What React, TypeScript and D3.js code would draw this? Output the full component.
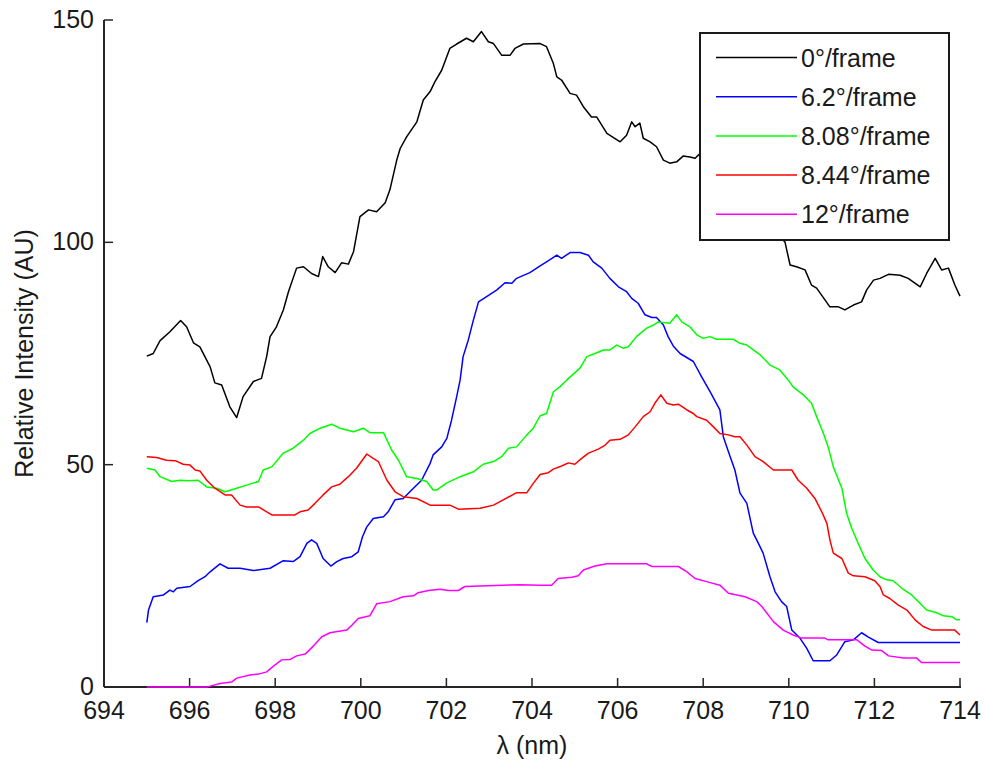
import React from 'react';
import * as d3 from 'd3';

type Pt = [number, number];

const wavelengthTicks = [694, 696, 698, 700, 702, 704, 706, 708, 710, 712, 714];
const intensityTicks = [0, 50, 100, 150];
const seriesNames = ['0°/frame', '6.2°/frame', '8.08°/frame', '8.44°/frame', '12°/frame'];
const seriesColors = ['#000000', '#0000ff', '#00ff00', '#ff0000', '#ff00ff'];

const rate0: Pt[] = [
  [695.0, 74.4], [695.15, 75.0], [695.31, 77.9], [695.54, 79.9], [695.79, 82.4], [695.93, 81.0], [696.09, 77.4],
  [696.24, 76.5], [696.48, 72.0], [696.59, 68.4], [696.75, 67.9], [696.94, 63.0], [697.10, 60.6], [697.25, 65.3],
  [697.49, 68.7], [697.68, 69.4], [697.80, 74.3], [697.88, 78.8], [698.03, 81.0], [698.19, 84.8], [698.31, 88.9],
  [698.50, 94.2], [698.66, 94.5], [698.85, 93.0], [699.01, 92.3], [699.11, 96.8], [699.24, 94.5], [699.40, 93.2],
  [699.55, 95.4], [699.71, 95.1], [699.83, 97.9], [699.98, 105.8], [700.18, 107.3], [700.37, 106.9], [700.57, 108.9],
  [700.68, 111.8], [700.84, 118.5], [700.92, 121.1], [701.07, 123.7], [701.31, 127.1], [701.46, 132.0], [701.62, 133.9],
  [701.73, 136.1], [701.89, 138.7], [702.08, 143.6], [702.24, 144.6], [702.47, 145.9], [702.63, 145.1], [702.82, 147.4],
  [702.98, 145.1], [703.10, 144.7], [703.29, 142.1], [703.49, 142.1], [703.60, 143.6], [703.80, 144.6], [704.19, 144.7],
  [704.34, 144.0], [704.50, 140.2], [704.58, 137.2], [704.69, 136.5], [704.89, 133.5], [705.04, 133.1], [705.20, 130.5],
  [705.39, 128.2], [705.51, 128.2], [705.75, 124.5], [706.06, 122.6], [706.21, 124.1], [706.33, 127.1], [706.41, 126.0],
  [706.52, 126.8], [706.60, 123.4], [706.76, 122.6], [706.91, 121.5], [707.07, 118.5], [707.22, 117.8], [707.38, 118.1],
  [707.53, 119.4], [707.69, 119.2], [707.81, 118.9], [707.93, 120.0], [708.3, 118.0], [708.8, 113.0], [709.3, 107.0],
  [709.7, 102.0], [709.91, 100.1], [710.03, 94.9], [710.18, 94.5], [710.38, 93.8], [710.53, 90.4], [710.65, 89.7],
  [710.96, 85.5], [711.16, 85.5], [711.31, 84.8], [711.51, 85.9], [711.70, 86.6], [711.82, 89.3], [711.98, 91.5],
  [712.13, 91.9], [712.33, 92.8], [712.60, 92.6], [712.79, 91.9], [713.07, 90.0], [713.22, 93.0], [713.42, 96.4],
  [713.57, 93.8], [713.73, 94.2], [713.88, 90.4], [714.0, 87.9],
];

const rate62: Pt[] = [
  [695.0, 14.5], [695.04, 17.3], [695.15, 20.3], [695.39, 20.7], [695.54, 21.8], [695.62, 21.4], [695.70, 22.2],
  [696.01, 22.6], [696.20, 23.9], [696.36, 24.8], [696.48, 25.9], [696.71, 27.7], [696.90, 26.7], [697.18, 26.7],
  [697.49, 26.2], [697.88, 26.7], [698.19, 28.4], [698.42, 28.2], [698.58, 29.3], [698.74, 32.3], [698.85, 33.1],
  [698.97, 32.3], [699.12, 28.9], [699.30, 27.2], [699.44, 28.2], [699.59, 28.9], [699.79, 29.3], [699.94, 30.4],
  [700.04, 33.8], [700.14, 36.0], [700.29, 37.9], [700.53, 38.3], [700.64, 39.4], [700.80, 42.1], [700.99, 42.4],
  [701.23, 44.7], [701.42, 46.5], [701.62, 50.3], [701.69, 52.2], [701.89, 54.0], [702.01, 55.9], [702.12, 60.0],
  [702.24, 65.3], [702.32, 69.0], [702.39, 74.3], [702.51, 78.0], [702.63, 82.5], [702.75, 86.6], [702.94, 87.8],
  [703.18, 89.3], [703.37, 90.9], [703.53, 90.8], [703.64, 91.9], [703.95, 93.2], [704.19, 94.7], [704.34, 95.6],
  [704.58, 97.1], [704.69, 96.4], [704.89, 97.7], [705.12, 97.7], [705.32, 97.1], [705.43, 95.6], [705.63, 94.2],
  [705.82, 91.9], [706.02, 90.0], [706.21, 88.9], [706.33, 87.4], [706.48, 86.3], [706.64, 83.7], [706.80, 83.1],
  [706.91, 83.1], [707.07, 81.4], [707.18, 78.8], [707.30, 76.7], [707.46, 75.0], [707.77, 73.2], [707.96, 69.8],
  [708.16, 66.4], [708.39, 62.3], [708.47, 56.3], [708.63, 51.8], [708.74, 48.8], [708.86, 43.6], [709.02, 41.3],
  [709.17, 34.6], [709.29, 32.3], [709.40, 30.1], [709.56, 24.8], [709.68, 21.4], [709.83, 19.2], [709.95, 18.1],
  [710.07, 12.8], [710.26, 11.0], [710.42, 8.7], [710.57, 5.9], [710.96, 5.9], [711.12, 7.2], [711.31, 10.2],
  [711.51, 10.6], [711.70, 12.2], [711.86, 11.2], [712.09, 10.0], [714.0, 10.0],
];

const rate808: Pt[] = [
  [695.0, 49.2], [695.19, 48.8], [695.31, 47.3], [695.58, 46.2], [695.78, 46.5], [695.97, 46.4], [696.20, 46.5],
  [696.40, 45.0], [696.63, 44.7], [696.83, 43.9], [697.10, 44.7], [697.33, 45.4], [697.61, 46.2], [697.72, 48.8],
  [697.92, 49.5], [698.19, 52.6], [698.42, 53.7], [698.66, 55.5], [698.81, 57.0], [699.05, 58.2], [699.32, 59.1],
  [699.51, 58.2], [699.83, 57.4], [700.06, 58.2], [700.21, 57.2], [700.53, 57.2], [700.72, 53.3], [700.88, 51.0],
  [701.07, 47.3], [701.31, 46.9], [701.54, 46.2], [701.69, 44.3], [701.77, 44.3], [702.01, 45.9], [702.32, 47.3],
  [702.63, 48.4], [702.86, 50.1], [703.10, 50.7], [703.29, 51.8], [703.45, 53.7], [703.64, 54.0], [703.88, 56.7],
  [704.03, 58.2], [704.19, 61.0], [704.34, 61.5], [704.50, 66.4], [704.65, 67.5], [704.81, 69.0], [705.12, 71.7],
  [705.28, 74.3], [705.47, 75.0], [705.67, 75.8], [705.82, 75.8], [705.98, 76.9], [706.13, 76.2], [706.25, 76.5],
  [706.44, 78.8], [706.68, 80.7], [706.84, 81.4], [706.95, 82.1], [707.22, 81.8], [707.38, 83.7], [707.50, 82.1],
  [707.69, 81.0], [707.85, 79.2], [708.00, 78.4], [708.16, 78.8], [708.31, 78.2], [708.70, 78.2], [708.86, 77.3],
  [709.02, 76.9], [709.17, 75.8], [709.33, 74.7], [709.56, 72.4], [709.79, 71.3], [709.99, 69.0], [710.10, 67.5],
  [710.34, 65.7], [710.53, 63.8], [710.65, 60.8], [710.81, 57.0], [710.92, 54.0], [711.04, 49.5], [711.24, 44.7],
  [711.35, 39.1], [711.47, 35.7], [711.62, 32.3], [711.78, 28.9], [711.97, 26.3], [712.13, 24.8], [712.29, 24.1],
  [712.44, 23.9], [712.64, 22.2], [712.87, 20.7], [713.07, 18.8], [713.22, 17.3], [713.46, 16.7], [713.61, 16.0],
  [713.81, 15.8], [713.92, 15.1], [714.0, 15.1],
];

const rate844: Pt[] = [
  [695.0, 51.8], [695.23, 51.6], [695.46, 51.0], [695.66, 50.9], [695.85, 50.1], [696.01, 49.9], [696.13, 48.8],
  [696.24, 48.6], [696.40, 46.5], [696.59, 44.7], [696.83, 43.2], [696.98, 43.2], [697.18, 40.9], [697.33, 40.5],
  [697.61, 40.5], [697.92, 38.7], [698.46, 38.7], [698.58, 39.4], [698.77, 39.8], [698.93, 41.3], [699.12, 43.2],
  [699.32, 45.0], [699.51, 45.6], [699.71, 47.3], [699.90, 49.2], [700.14, 52.4], [700.29, 51.4], [700.41, 50.7],
  [700.61, 46.5], [700.80, 43.9], [700.99, 42.8], [701.31, 42.4], [701.62, 40.9], [702.08, 40.9], [702.28, 40.0],
  [702.79, 40.2], [703.10, 40.9], [703.33, 42.1], [703.64, 43.7], [703.88, 43.7], [704.03, 45.8], [704.19, 47.8],
  [704.38, 48.2], [704.50, 49.0], [704.69, 49.7], [704.85, 50.4], [705.00, 50.1], [705.16, 51.4], [705.32, 52.6],
  [705.55, 53.5], [705.71, 54.4], [705.82, 55.5], [706.06, 55.7], [706.25, 56.7], [706.41, 58.5], [706.60, 60.8],
  [706.76, 61.9], [706.87, 63.8], [707.01, 65.7], [707.15, 63.8], [707.30, 63.4], [707.42, 63.6], [707.62, 62.3],
  [707.77, 61.5], [707.85, 60.8], [708.08, 60.0], [708.24, 58.5], [708.39, 57.0], [708.59, 56.7], [708.74, 56.3],
  [708.86, 56.3], [709.02, 54.4], [709.21, 51.8], [709.40, 50.7], [709.64, 48.8], [710.07, 48.8], [710.22, 46.5],
  [710.42, 44.7], [710.61, 42.4], [710.77, 39.4], [710.89, 36.8], [710.96, 33.1], [711.04, 30.1], [711.24, 28.9],
  [711.39, 25.6], [711.51, 25.0], [711.78, 24.8], [712.01, 23.9], [712.13, 22.6], [712.21, 20.7], [712.36, 19.9],
  [712.56, 18.4], [712.76, 17.3], [712.95, 15.1], [713.14, 13.6], [713.34, 12.8], [713.88, 12.8], [714.0, 11.7],
];

const rate12: Pt[] = [
  [695.0, 0.0], [696.40, 0.0], [696.48, 0.2], [696.71, 0.8], [696.98, 1.1], [697.10, 2.0], [697.41, 2.7],
  [697.61, 2.9], [697.80, 3.4], [697.96, 4.7], [698.15, 6.1], [698.35, 6.2], [698.50, 7.0], [698.70, 7.4],
  [698.89, 9.2], [699.09, 11.3], [699.28, 12.2], [699.67, 12.8], [699.79, 13.9], [699.94, 15.4], [700.21, 16.0],
  [700.37, 18.7], [700.68, 19.2], [700.99, 20.3], [701.23, 20.5], [701.34, 21.2], [701.58, 21.7], [701.85, 22.0],
  [702.04, 21.7], [702.28, 21.7], [702.43, 22.6], [703.72, 23.0], [704.19, 22.9], [704.46, 22.9], [704.61, 24.4],
  [704.93, 24.7], [705.08, 25.0], [705.20, 26.3], [705.47, 27.2], [705.75, 27.7], [706.68, 27.7], [706.80, 27.1],
  [707.42, 27.1], [707.62, 25.9], [707.81, 24.4], [708.08, 23.7], [708.39, 22.9], [708.59, 21.1], [708.98, 20.3],
  [709.25, 19.2], [709.37, 18.1], [709.64, 14.7], [709.87, 12.8], [710.10, 11.7], [710.30, 11.0], [710.84, 11.0],
  [710.92, 10.6], [711.59, 10.6], [711.78, 9.2], [711.94, 8.3], [712.17, 8.2], [712.33, 7.0], [712.68, 6.5],
  [712.99, 6.5], [713.10, 5.5], [714.0, 5.5],
];

const seriesData: Pt[][] = [rate0, rate62, rate808, rate844, rate12];

const FONT = '"Liberation Sans", Arial, sans-serif';

export default function App() {
  const W = 984;
  const H = 765;
  const left = 104;
  const right = 960;
  const top = 20;
  const bottom = 687;
  const x = d3.scaleLinear().domain([694, 714]).range([left, right]);
  const y = d3.scaleLinear().domain([0, 150]).range([bottom, top]);
  const line = d3
    .line<Pt>()
    .x((d) => x(d[0]))
    .y((d) => y(d[1]));
  const axisColor = '#262626';
  const tickLen = 9;

  const legendX = 700;
  const legendY = 33;
  const legendW = 249;
  const legendH = 207;
  const rowY0 = 57.5;
  const rowStep = 39.2;

  return (
    <div style={{ position: 'absolute', left: 0, top: 0, width: W, height: H, background: '#fff' }}>
      <svg width={W} height={H} style={{ display: 'block' }} fontFamily={FONT}>
        <rect x={0} y={0} width={W} height={H} fill="#fff" />
        {/* axes */}
        <line x1={left} x2={left} y1={top} y2={bottom} stroke={axisColor} strokeWidth={2} />
        <line x1={left} x2={right + 1} y1={bottom} y2={bottom} stroke={axisColor} strokeWidth={2} />
        {intensityTicks.map((t) => (
          <g key={'y' + t}>
            <line x1={left} x2={left + tickLen} y1={y(t)} y2={y(t)} stroke={axisColor} strokeWidth={1.5} />
            <text
              x={left - 10}
              y={y(t) - 1}
              textAnchor="end"
              dominantBaseline="central"
              fontSize={25}
              fill="#1a1a1a"
            >
              {t}
            </text>
          </g>
        ))}
        {wavelengthTicks.map((t) => (
          <g key={'x' + t}>
            <line x1={x(t)} x2={x(t)} y1={bottom} y2={bottom - tickLen} stroke={axisColor} strokeWidth={1.5} />
            <text x={x(t)} y={719} textAnchor="middle" fontSize={25} fill="#1a1a1a">
              {t}
            </text>
          </g>
        ))}
        <text x={(left + right) / 2} y={754} textAnchor="middle" fontSize={25} fill="#1a1a1a">
          λ (nm)
        </text>
        <text
          transform={`translate(33, ${(top + bottom) / 2}) rotate(-90)`}
          textAnchor="middle"
          fontSize={25}
          fill="#1a1a1a"
        >
          Relative Intensity (AU)
        </text>
        {/* data lines */}
        {seriesData.map((data, i) => (
          <path
            key={seriesNames[i]}
            d={line(data) || ''}
            fill="none"
            stroke={seriesColors[i]}
            strokeWidth={1.5}
            strokeLinejoin="round"
          />
        ))}
        {/* legend */}
        <rect
          x={legendX}
          y={legendY}
          width={legendW}
          height={legendH}
          fill="#fff"
          stroke="#1a1a1a"
          strokeWidth={2}
        />
        {seriesNames.map((name, i) => {
          const ry = rowY0 + i * rowStep;
          return (
            <g key={'lg' + name}>
              <line x1={716} x2={797} y1={ry} y2={ry} stroke={seriesColors[i]} strokeWidth={1.5} />
              <text x={801} y={ry + 9} fontSize={25} fill="#1a1a1a">
                {name}
              </text>
            </g>
          );
        })}
      </svg>
    </div>
  );
}
